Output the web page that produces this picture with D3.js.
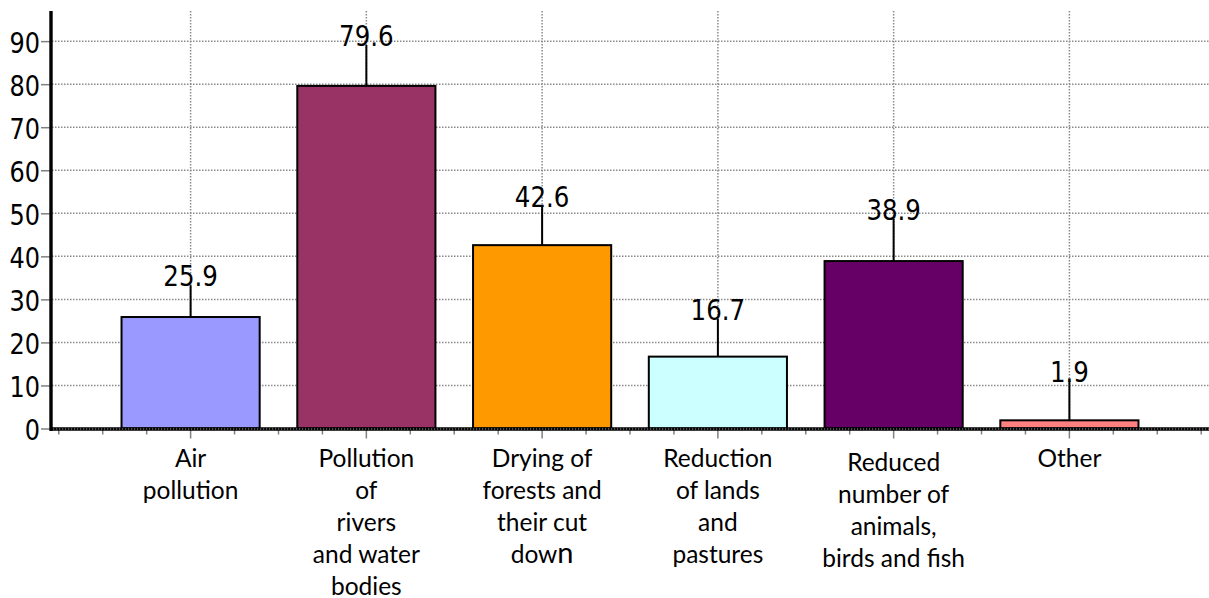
<!DOCTYPE html>
<html><head><meta charset="utf-8">
<script src="https://cdn.jsdelivr.net/npm/d3@7"></script>
<style>body{margin:0;background:#fff}svg{display:block}</style>
</head><body><svg id="c" width="1209" height="598"></svg>
<script>
const categories = ["Air pollution","Pollution of rivers and water bodies","Drying of forests and their cut down","Reduction of lands and pastures","Reduced number of animals, birds and fish","Other"];
const categoryLines = [["Air","pollution"],["Pollution","of","rivers","and water","bodies"],["Drying of","forests and","their cut","down"],["Reduction","of lands","and","pastures"],["Reduced","number of","animals,","birds and fish"],["Other"]];
const values = [25.9,79.6,42.6,16.7,38.9,1.9];
const errors = [7.4,9.5,9.1,8.8,9.8,9.1];
const yTicks = [0,10,20,30,40,50,60,70,80,90];
const colors = ["#9999FF","#993366","#FF9900","#CCFFFF","#660066","#FF8080"];

const W = 1209, H = 598;
const svg = d3.select("#c");
const x = d3.scalePoint().domain(categories).range([50, 1210]).padding(0.8);
const y = d3.scaleLinear().domain([0, 97]).range([428.5, 11]);
const step = x.step();
const bw = step * 0.786;
const gridColor = "#8a8a8a";

// horizontal gridlines
svg.append("g").selectAll("line").data(yTicks.filter(d => d > 0)).join("line")
  .attr("x1", 52).attr("x2", W).attr("y1", d => y(d)).attr("y2", d => y(d))
  .attr("stroke", gridColor).attr("stroke-width", 1.5).attr("stroke-dasharray", "1.5,1.5");
// vertical gridlines
svg.append("g").selectAll("line").data(categories).join("line")
  .attr("x1", d => x(d)).attr("x2", d => x(d)).attr("y1", y(97)).attr("y2", y(0))
  .attr("stroke", gridColor).attr("stroke-width", 1.5).attr("stroke-dasharray", "1.5,1.5");

// y axis
const yAxis = svg.append("g").attr("transform", "translate(50,0)")
  .call(d3.axisLeft(y).tickValues(yTicks).tickSize(9).tickPadding(1));
yAxis.select(".domain").remove();
yAxis.selectAll(".tick line").attr("stroke", "#808080").attr("stroke-width", 1.5);
yAxis.selectAll(".tick text").attr("font-family", "DejaVu Sans").attr("font-size", 24)
  .attr("fill", "#000").attr("dy", "0.39em").attr("transform", "scale(1,1.17)");

// x minor/major ticks
const x0 = x(categories[0]);
const tickPos = d3.range(-3, 60).map(k => ({p: x0 + k * step / 4, major: ((k % 4) + 4) % 4 === 0}))
  .filter(t => t.p > 52 && t.p < W);
svg.append("g").selectAll("line").data(tickPos).join("line")
  .attr("x1", d => d.p).attr("x2", d => d.p).attr("y1", y(0)).attr("y2", d => y(0) + (d.major ? 10 : 6))
  .attr("stroke", "#808080").attr("stroke-width", 1.5);

// bars
svg.append("g").selectAll("rect").data(values).join("rect")
  .attr("x", (d, i) => x(categories[i]) - bw / 2).attr("width", bw)
  .attr("y", d => y(d)).attr("height", d => y(0) - y(d))
  .attr("fill", (d, i) => colors[i]).attr("stroke", "#000").attr("stroke-width", 2);

// baseline
svg.append("line").attr("x1", 50).attr("x2", W).attr("y1", y(0) + 0.5).attr("y2", y(0) + 0.5)
  .attr("stroke", "#000").attr("stroke-width", 3.5);
svg.append("line").attr("x1", 50).attr("x2", W).attr("y1", y(0) + 0.5).attr("y2", y(0) + 0.5)
  .attr("stroke", "#9a9a9a").attr("stroke-width", 1).attr("stroke-dasharray", "1.2,1.8");

// y axis line
svg.append("line").attr("x1", 51).attr("x2", 51).attr("y1", y(97)).attr("y2", y(0) + 2.5)
  .attr("stroke", "#000").attr("stroke-width", 3.4);

// whiskers
svg.append("g").selectAll("line").data(values).join("line")
  .attr("x1", (d, i) => x(categories[i])).attr("x2", (d, i) => x(categories[i]))
  .attr("y1", d => y(d)).attr("y2", (d, i) => y(d + errors[i]))
  .attr("stroke", "#000").attr("stroke-width", 2);

// value labels
svg.append("g").selectAll("text").data(values).join("text")
  .attr("transform", (d, i) => `translate(${x(categories[i])},${y(d + errors[i]) + 1}) scale(1,1.16)`)
  .attr("text-anchor", "middle").attr("font-family", "DejaVu Sans").attr("font-size", 24.5)
  .attr("fill", "#000").text(d => d.toFixed(1));

// category labels
const lineGap = 32;
categoryLines.forEach((lines, i) => {
  const shift = i === 4 ? 4 : 0;
  const t = svg.append("text").attr("text-anchor", "middle").attr("font-family", "Lato")
    .attr("font-size", 24.5).attr("fill", "#000");
  lines.forEach((ln, j) => {
    const yy = y(0) + 38 + shift + j * lineGap;
    if (ln === "down") {
      const tt = t.append("tspan").attr("x", x(categories[i])).attr("y", yy);
      tt.append("tspan").text("dow");
      tt.append("tspan").attr("font-size", 29).text("n");
    } else {
      t.append("tspan").attr("x", x(categories[i])).attr("y", yy).text(ln);
    }
  });
});
</script></body></html>
